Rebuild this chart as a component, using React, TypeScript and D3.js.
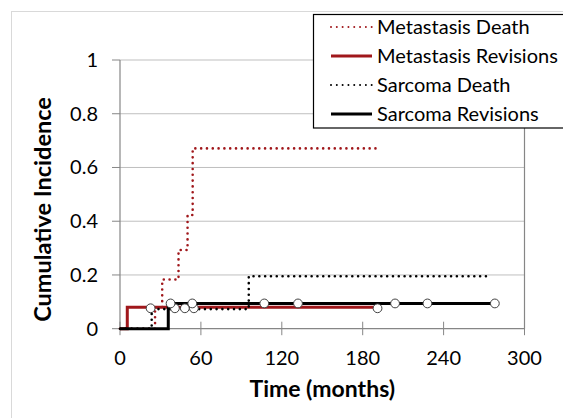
import React from "react";
import * as d3 from "d3";

const W = 563;
const H = 418;

const xTicks = [0, 60, 120, 180, 240, 300];
const yTicks = [0, 0.2, 0.4, 0.6, 0.8, 1];
const yTickLabels = ["0", "0.2", "0.4", "0.6", "0.8", "1"];

// [time (months), cumulative incidence]
const metastasisDeath: [number, number][] = [
  [0, 0], [26, 0.08], [31.3, 0.183], [43.4, 0.293], [50.1, 0.423], [53.9, 0.671], [190, 0.671],
];
const metastasisRevisions: [number, number][] = [
  [0, 0], [5.4, 0.08], [191, 0.08],
];
const sarcomaDeath: [number, number][] = [
  [0, 0], [23.5, 0.073], [95.5, 0.195], [275.5, 0.195],
];
const sarcomaRevisions: [number, number][] = [
  [0, 0], [35.8, 0.094], [278, 0.094],
];

// censored observations (markers)
const censorLow: [number, number][] = [
  [22.7, 0.076], [40.7, 0.076], [48.1, 0.076], [54.8, 0.076], [191, 0.076],
];
const censorHigh: [number, number][] = [
  [37.5, 0.094], [53.6, 0.094], [107, 0.094], [132, 0.094], [204, 0.094], [228, 0.094], [278, 0.094],
];

const legendLabels = ["Metastasis Death", "Metastasis Revisions", "Sarcoma Death", "Sarcoma Revisions"];

const RED = "#A0171B";
const BLACK = "#000000";
const FONT = "Lato, 'Open Sans', sans-serif";

export default function App() {
  const x = d3.scaleLinear().domain([0, 300]).range([120, 524.5]);
  const y = d3.scaleLinear().domain([0, 1]).range([328.7, 60]);
  const line = d3
    .line<[number, number]>()
    .x((d) => x(d[0]))
    .y((d) => y(d[1]))
    .curve(d3.curveStepAfter);

  const dotted = { strokeDasharray: "0.01 5.8", strokeLinecap: "round" as const, strokeWidth: 2.6 };

  const series = [
    { data: metastasisDeath, color: RED, dot: true },
    { data: metastasisRevisions, color: RED, dot: false },
    { data: sarcomaDeath, color: BLACK, dot: true },
    { data: sarcomaRevisions, color: BLACK, dot: false },
  ];

  const legendRowY = [27, 56, 85, 114];

  return (
    <svg width={W} height={H} style={{ position: "absolute", left: 0, top: 0 }}>
      <rect x={0} y={0} width={W} height={H} fill="#fff" />
      <rect x={11.5} y={11.5} width={570} height={430} fill="none" stroke="#d9d9d9" strokeWidth={1} />

      {/* gridlines */}
      {yTicks.map((t) =>
        t > 0 ? (
          <line key={"g" + t} x1={x(0)} x2={x(300)} y1={y(t)} y2={y(t)} stroke="#bfbfbf" strokeWidth={1} />
        ) : null
      )}
      {/* y ticks */}
      {yTicks.map((t) => (
        <line key={"yt" + t} x1={112} x2={x(0)} y1={y(t)} y2={y(t)} stroke="#868686" strokeWidth={1} />
      ))}
      {/* x ticks */}
      {xTicks.map((t) => (
        <line key={"xt" + t} x1={x(t)} x2={x(t)} y1={y(0) - 7} y2={y(0) + 6.5} stroke="#868686" strokeWidth={1} />
      ))}
      {/* axes */}
      <line x1={x(0)} x2={x(0)} y1={y(1)} y2={y(0)} stroke="#868686" strokeWidth={1.2} />
      <line x1={x(300)} x2={x(300)} y1={y(1)} y2={y(0)} stroke="#868686" strokeWidth={1.2} />
      <line x1={x(0)} x2={x(300)} y1={y(0)} y2={y(0)} stroke="#868686" strokeWidth={1.2} />

      {/* tick labels */}
      {yTicks.map((t, i) => (
        <text key={"yl" + t} x={98} y={y(t) + 7} textAnchor="end" fontFamily={FONT} fontSize={20} fill="#000">
          {yTickLabels[i]}
        </text>
      ))}
      {xTicks.map((t) => (
        <text key={"xl" + t} x={x(t)} y={365} textAnchor="middle" fontFamily={FONT} fontSize={20} fill="#000">
          {t}
        </text>
      ))}

      {/* axis titles */}
      <text x={(x(0) + x(300)) / 2} y={397} textAnchor="middle" fontFamily={FONT} fontWeight="bold" fontSize={23} fill="#000">
        Time (months)
      </text>
      <text
        transform={`translate(51, ${(85 + 334) / 2}) rotate(-90)`}
        textAnchor="middle"
        fontFamily={FONT}
        fontWeight="bold"
        fontSize={23.5}
        fill="#000"
      >
        Cumulative Incidence
      </text>

      {/* series */}
      {series.map((s, i) => (
        <path
          key={"s" + i}
          d={line(s.data) || ""}
          fill="none"
          stroke={s.color}
          strokeWidth={s.dot ? dotted.strokeWidth : 3}
          strokeDasharray={s.dot ? dotted.strokeDasharray : undefined}
          strokeLinecap={s.dot ? dotted.strokeLinecap : "butt"}
        />
      ))}

      {/* censor markers */}
      {[...censorLow, ...censorHigh].map((d, i) => (
        <circle key={"c" + i} cx={x(d[0])} cy={y(d[1])} r={4.4} fill="#fff" stroke="#404040" strokeWidth={1} />
      ))}

      {/* legend */}
      <rect x={313.5} y={14.5} width={260} height={113.5} fill="#fff" stroke="#000" strokeWidth={1.2} />
      {series.map((s, i) => (
        <g key={"l" + i}>
          <line
            x1={331}
            x2={372}
            y1={legendRowY[i]}
            y2={legendRowY[i]}
            stroke={s.color}
            strokeWidth={s.dot ? 2 : 3}
            strokeDasharray={s.dot ? "0.01 5.8" : undefined}
            strokeLinecap={s.dot ? "round" : "butt"}
          />
          <text x={377} y={legendRowY[i] + 7} fontFamily={FONT} fontSize={20} fill="#000">
            {legendLabels[i]}
          </text>
        </g>
      ))}
    </svg>
  );
}
